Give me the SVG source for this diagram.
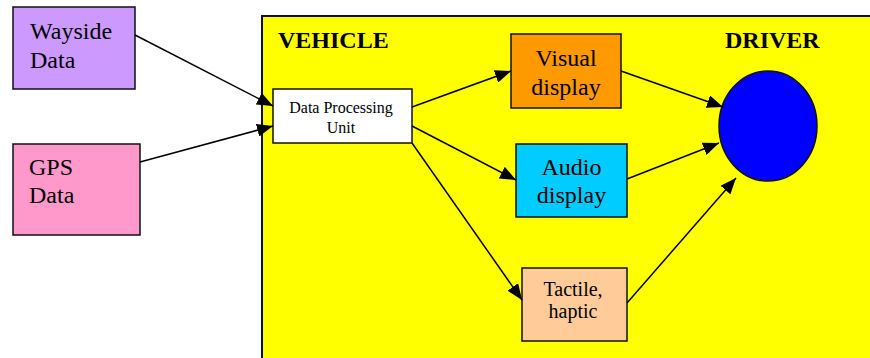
<svg xmlns="http://www.w3.org/2000/svg" width="870" height="358" viewBox="0 0 870 358">
  <style>
    .box { stroke: #111; stroke-width: 1.5; }
    .lbl { font-family: "Liberation Serif", "Times New Roman", serif; fill: #000; }
    .big { font-size: 24px; }
    .head { font-size: 24px; font-weight: bold; }
    .conn { stroke: #000; stroke-width: 1.5; fill: none; marker-end: url(#arrow); }
  </style>
  <defs>
    <marker id="arrow" markerUnits="userSpaceOnUse" markerWidth="17" markerHeight="13" refX="16" refY="6.5" orient="auto">
      <path d="M0,0 L16,6.5 L0,13 z" fill="#000"/>
    </marker>
  </defs>

  <rect width="870" height="358" fill="#fff"/>

  <!-- vehicle area -->
  <g id="vehicle">
    <rect x="262" y="16" width="640" height="400" fill="#ffff00" stroke="#111" stroke-width="2"/>
    <text class="lbl head" x="278" y="48">VEHICLE</text>
    <text class="lbl head" x="725" y="48">DRIVER</text>
  </g>

  <g id="wayside">
    <rect class="box" x="13" y="7" width="122" height="82" fill="#cc99ff"/>
    <text class="lbl big" x="30" y="39">Wayside</text>
    <text class="lbl big" x="30" y="68">Data</text>
  </g>

  <g id="gps">
    <rect class="box" x="13" y="144" width="127" height="91" fill="#ff99cc"/>
    <text class="lbl big" x="29" y="175">GPS</text>
    <text class="lbl big" x="29" y="203">Data</text>
  </g>

  <g id="dpu">
    <rect class="box" x="273" y="89" width="139" height="54" fill="#fff"/>
    <text class="lbl" font-size="16" text-anchor="middle" x="341" y="113">Data Processing</text>
    <text class="lbl" font-size="16" text-anchor="middle" x="341" y="133">Unit</text>
  </g>

  <g id="visual">
    <rect class="box" x="511" y="34" width="110" height="74" fill="#ff9900"/>
    <text class="lbl big" text-anchor="middle" x="566" y="66">Visual</text>
    <text class="lbl big" text-anchor="middle" x="566" y="95">display</text>
  </g>

  <g id="audio">
    <rect class="box" x="516" y="144" width="111" height="73" fill="#00ccff"/>
    <text class="lbl big" text-anchor="middle" x="571.5" y="175">Audio</text>
    <text class="lbl big" text-anchor="middle" x="571.5" y="203">display</text>
  </g>

  <g id="tactile">
    <rect class="box" x="522" y="268" width="105" height="73" fill="#ffcc99"/>
    <text class="lbl" font-size="20" text-anchor="middle" x="573" y="296">Tactile,</text>
    <text class="lbl" font-size="20" text-anchor="middle" x="573" y="318">haptic</text>
  </g>

  <g id="driver">
    <ellipse cx="768" cy="126" rx="49" ry="55" fill="#0000ff" stroke="#111" stroke-width="1.5"/>
  </g>

  <g id="connectors">
    <line class="conn" x1="135" y1="35" x2="273" y2="106"/>
    <line class="conn" x1="140" y1="162" x2="273" y2="126"/>
    <line class="conn" x1="412" y1="107" x2="511" y2="71"/>
    <line class="conn" x1="412" y1="126" x2="516" y2="180"/>
    <line class="conn" x1="412" y1="143" x2="522" y2="300"/>
    <line class="conn" x1="621" y1="71" x2="723" y2="107"/>
    <line class="conn" x1="627" y1="179" x2="719" y2="143"/>
    <line class="conn" x1="627" y1="303" x2="736" y2="178"/>
  </g>
</svg>
